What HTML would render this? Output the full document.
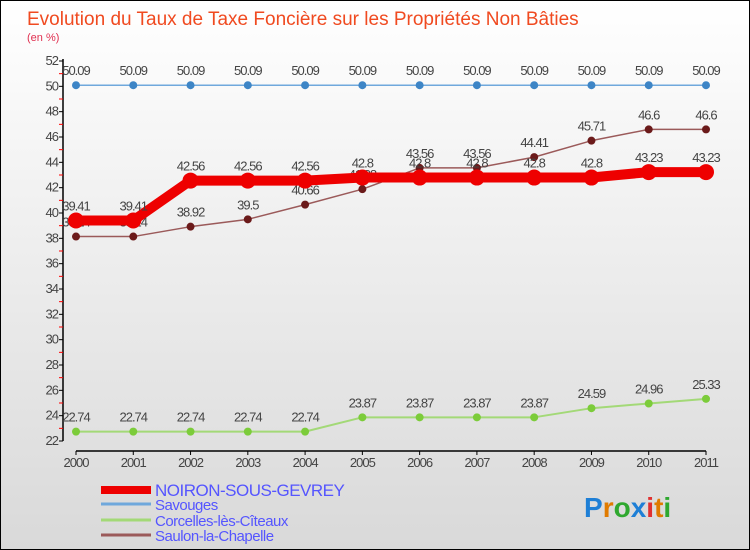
<!DOCTYPE html>
<html><head><meta charset="utf-8"><style>
body{margin:0}
#c{width:750px;height:550px;position:relative;overflow:hidden;box-sizing:border-box;border:1px solid #000;background:linear-gradient(#fff,#d9d9d9);font-family:"Liberation Sans",sans-serif}
</style></head><body>
<div id="c">
<svg id="s" width="750" height="550" style="position:absolute;left:0;top:0">
<text x="26" y="24" font-size="19" fill="#f04a20">Evolution du Taux de Taxe Foncière sur les Propriétés Non Bâties</text>
<text x="26" y="40" font-size="11" fill="#e03050">(en %)</text>
<g id="g"></g>
</svg>
</div>
<script>
const years=["2000","2001","2002","2003","2004","2005","2006","2007","2008","2009","2010","2011"];
const noiron=[39.41,39.41,42.56,42.56,42.56,42.8,42.8,42.8,42.8,42.8,43.23,43.23];
const savouges=[50.09,50.09,50.09,50.09,50.09,50.09,50.09,50.09,50.09,50.09,50.09,50.09];
const corcelles=[22.74,22.74,22.74,22.74,22.74,23.87,23.87,23.87,23.87,24.59,24.96,25.33];
const saulon=[38.14,38.14,38.92,39.5,40.66,41.88,43.56,43.56,44.41,45.71,46.6,46.6];
const yTicks=[22,24,26,28,30,32,34,36,38,40,42,44,46,48,50,52];
const names=["NOIRON-SOUS-GEVREY","Savouges","Corcelles-lès-Cîteaux","Saulon-la-Chapelle"];
const NS="http://www.w3.org/2000/svg";
const g=document.getElementById('g');
const X=i=>75+i*(630/11);
const Y=v=>440-(v-22)*(380/30);
function el(t,a,p){const e=document.createElementNS(NS,t);for(const k in a)e.setAttribute(k,a[k]);(p||g).appendChild(e);return e;}
let a=el('line',{x1:62,y1:58,x2:62,y2:440,stroke:'#000','stroke-width':1.5});


a=el('line',{x1:75,y1:450,x2:705,y2:450,stroke:'#000','stroke-width':1.5});


yTicks.forEach(v=>{
 el('line',{x1:58,y1:Y(v),x2:62,y2:Y(v),stroke:'#000'});
 if(v<52) el('line',{x1:58,y1:Y(v+1),x2:62,y2:Y(v+1),stroke:'#f00'});
 const t=el('text',{x:57,y:Y(v)+4,'font-size':13,'text-anchor':'end',fill:'#444','letter-spacing':'-1'});
 t.textContent=v;
 
 
});
years.forEach((y,i)=>{
 el('line',{x1:X(i),y1:450,x2:X(i),y2:454,stroke:'#000'});
 const t=el('text',{x:X(i),y:466,'font-size':13,'text-anchor':'middle',fill:'#444','letter-spacing':'-1'});
 t.textContent=y;
 
 
});
function series(d,col,dot,w,r,name){
 const p=el('polyline',{points:d.map((v,i)=>X(i)+','+Y(v)).join(' '),fill:'none',stroke:col,'stroke-width':w,'stroke-linejoin':'round'});
 
 
 d.forEach((v,i)=>{
  const c=el('circle',{cx:X(i),cy:Y(v),r:r,fill:dot});
  
  
  const t=el('text',{x:X(i),y:Y(v)-10,'font-size':13,'text-anchor':'middle',fill:'#444','letter-spacing':'-1'});
  t.textContent=v;
  
  
 });
}
series(savouges,'#6fa8dc','#3d85c6',1.5,4,'savouges');
series(corcelles,'#a3d977','#7ccc3a',2,4,'corcelles');
series(saulon,'#9b5a5a','#6b1a1a',1.5,4,'saulon');
series(noiron,'#ee0000','#ee0000',10,8,'noiron');
const lc=['#ee0000','#6fa8dc','#a3d977','#9b5a5a'],lw=[8,3,3,3],ly=[493,507,523,538];
names.forEach((n,i)=>{
 const l=el('line',{x1:100,y1:ly[i]-4,x2:150,y2:ly[i]-4,stroke:lc[i],'stroke-width':lw[i]});
 
 
 const t=el('text',{x:154,y:ly[i]+2,'font-size':i==0?17:15,fill:'#5555ff','letter-spacing':'-0.5'});
 t.textContent=n;
 
 
});
const logo=el('text',{x:583,y:516,'font-size':28,'font-weight':'bold'});


[['P','#1e7fd6'],['r','#e07b00'],['o','#2fa82f'],['x','#1e7fd6'],['i','#e03030'],['t','#e07b00'],['i','#2fa82f']].forEach(([c,f])=>{const s=el('tspan',{fill:f},logo);s.textContent=c;});
</script>
</body></html>
